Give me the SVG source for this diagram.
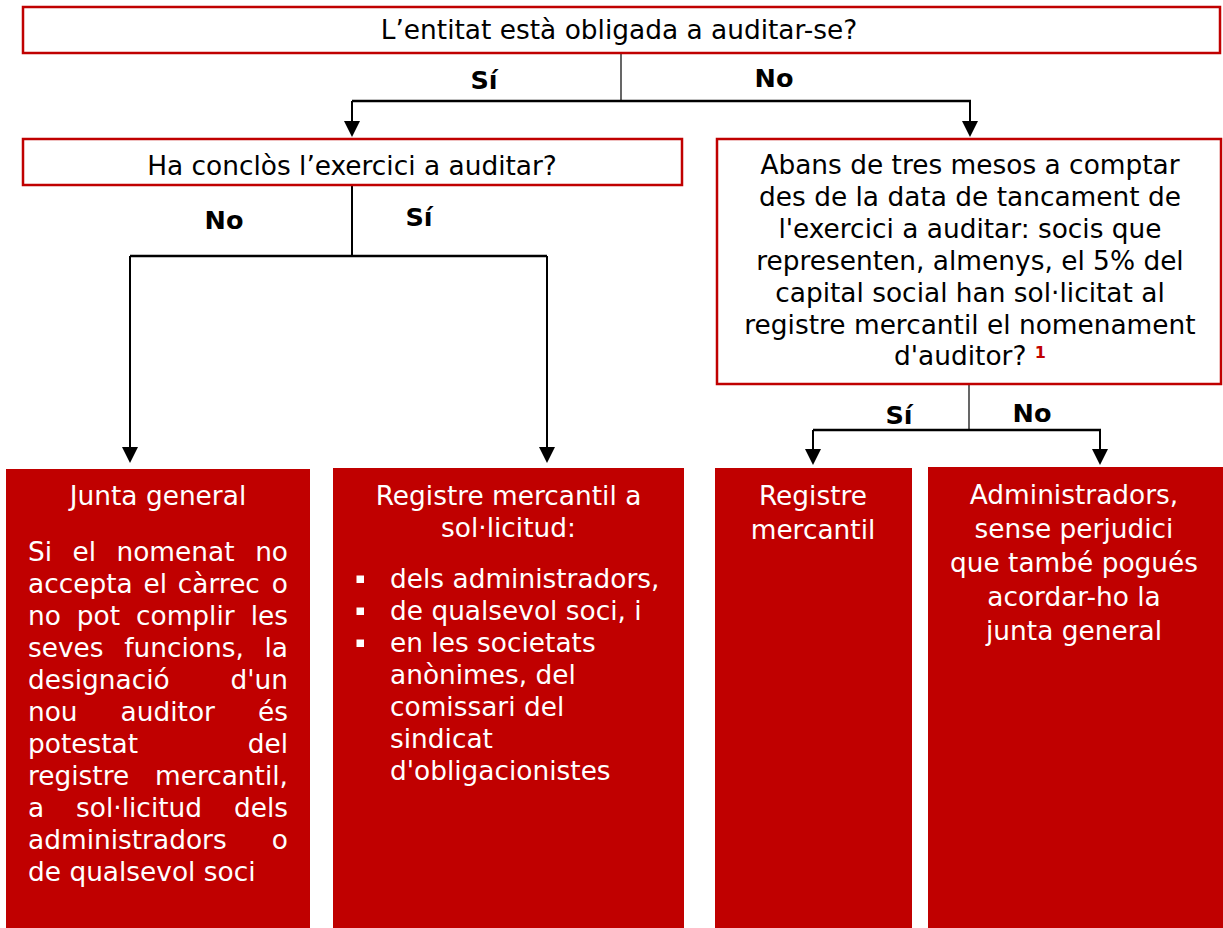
<svg xmlns="http://www.w3.org/2000/svg" width="1223" height="928" viewBox="0 0 1223 928">
<style>
  text { font-family: "DejaVu Sans", "Liberation Sans", sans-serif; font-size: 26.4px; }
  .q { fill: #000; }
  .w { fill: #fff; }
  .lbl { font-weight: bold; font-size: 25.5px; fill: #000; text-anchor: middle; }
  .c { text-anchor: middle; }
  .e { text-anchor: end; }
  .qbox { fill: #fff; stroke: #C00000; stroke-width: 2.5; }
  .rbox { fill: #C00000; }
  .thin { fill: none; stroke: #000; stroke-width: 1.2; }
  .bar { fill: none; stroke: #000; stroke-width: 2.5; }
  .vline { fill: none; stroke: #000; stroke-width: 2; }
  .arr { fill: none; stroke: #000; stroke-width: 2; marker-end: url(#ah); }
  .sup { font-size: 16px; font-weight: bold; fill: #C00000; }
</style>
<defs>
  <marker id="ah" markerUnits="userSpaceOnUse" viewBox="0 0 16 16" refX="7" refY="8" markerWidth="16" markerHeight="16" orient="auto">
    <path d="M0,0 L16,8 L0,16 Z" fill="#000"/>
  </marker>
</defs>

<g id="connectors">
  <path class="thin" d="M621,54 V101"/>
  <path class="bar" d="M352,101 H971"/>
  <path class="arr" d="M352,101 V128"/>
  <path class="arr" d="M970,101 V128"/>

  <path class="vline" d="M352,186 V256"/>
  <path class="bar" d="M130,256 H547"/>
  <path class="arr" d="M130,256 V454"/>
  <path class="arr" d="M547,256 V454"/>

  <path class="thin" d="M969,385 V430"/>
  <path class="bar" d="M813,430 H1101"/>
  <path class="arr" d="M813,430 V456"/>
  <path class="arr" d="M1100,430 V456"/>

  <text class="lbl" x="484" y="89">Sí</text>
  <text class="lbl" x="774" y="87">No</text>
  <text class="lbl" x="224" y="229">No</text>
  <text class="lbl" x="419" y="226">Sí</text>
  <text class="lbl" x="899" y="424">Sí</text>
  <text class="lbl" x="1032" y="422">No</text>
</g>

<g id="q1">
  <rect class="qbox" x="23" y="7" width="1197" height="46"/>
  <text class="q c" x="619" y="39">L’entitat està obligada a auditar-se?</text>
</g>

<g id="q2">
  <rect class="qbox" x="23" y="139" width="659" height="46"/>
  <text class="q c" x="352" y="175">Ha conclòs l’exercici a auditar?</text>
</g>

<g id="q3">
  <rect class="qbox" x="717" y="139" width="504" height="245"/>
  <text class="q c" x="970" y="174">Abans de tres mesos a comptar</text>
  <text class="q c" x="970" y="206">des de la data de tancament de</text>
  <text class="q c" x="970" y="238">l'exercici a auditar: socis que</text>
  <text class="q c" x="970" y="270">representen, almenys, el 5% del</text>
  <text class="q c" x="970" y="302">capital social han sol·licitat al</text>
  <text class="q c" x="970" y="334">registre mercantil el nomenament</text>
  <text class="q c" x="970" y="365">d'auditor? <tspan class="sup" dy="-7">1</tspan></text>
</g>

<g id="junta">
  <rect class="rbox" x="6" y="469" width="304" height="459"/>
  <text class="w c" x="158" y="505">Junta general</text>
  <text class="w" x="28" y="561">Si</text><text class="w" x="72.5" y="561">el</text><text class="w" x="116.5" y="561">nomenat</text><text class="w e" x="288" y="561">no</text>
  <text class="w" x="28" y="593">accepta</text><text class="w" x="143.5" y="593">el</text><text class="w" x="177.8" y="593">càrrec</text><text class="w e" x="288" y="593">o</text>
  <text class="w" x="28" y="625">no</text><text class="w" x="76.8" y="625">pot</text><text class="w" x="136" y="625">complir</text><text class="w e" x="288" y="625">les</text>
  <text class="w" x="28" y="657">seves</text><text class="w" x="124.2" y="657">funcions,</text><text class="w e" x="288" y="657">la</text>
  <text class="w" x="28" y="689">designació</text><text class="w e" x="288" y="689">d'un</text>
  <text class="w" x="28" y="721">nou</text><text class="w" x="120.6" y="721">auditor</text><text class="w e" x="288" y="721">és</text>
  <text class="w" x="28" y="753">potestat</text><text class="w e" x="288" y="753">del</text>
  <text class="w" x="28" y="785">registre</text><text class="w e" x="288" y="785">mercantil,</text>
  <text class="w" x="28" y="817">a</text><text class="w" x="76.1" y="817">sol·licitud</text><text class="w e" x="288" y="817">dels</text>
  <text class="w" x="28" y="849">administradors</text><text class="w e" x="288" y="849">o</text>
  <text class="w" x="28" y="881">de qualsevol soci</text>
</g>

<g id="registre-sollicitud">
  <rect class="rbox" x="333" y="468" width="351" height="460"/>
  <text class="w c" x="508.5" y="505">Registre mercantil a</text>
  <text class="w c" x="508.5" y="537">sol·licitud:</text>
  <rect fill="#fff" x="356.5" y="575.5" width="7.5" height="7.5"/>
  <rect fill="#fff" x="356.5" y="607.5" width="7.5" height="7.5"/>
  <rect fill="#fff" x="356.5" y="639.5" width="7.5" height="7.5"/>
  <text class="w" x="390" y="588">dels administradors,</text>
  <text class="w" x="390" y="620">de qualsevol soci, i</text>
  <text class="w" x="390" y="652">en les societats</text>
  <text class="w" x="390" y="684">anònimes, del</text>
  <text class="w" x="390" y="716">comissari del</text>
  <text class="w" x="390" y="748">sindicat</text>
  <text class="w" x="390" y="780">d'obligacionistes</text>
</g>

<g id="registre">
  <rect class="rbox" x="715" y="468" width="197" height="460"/>
  <text class="w c" x="813" y="505">Registre</text>
  <text class="w c" x="813" y="539">mercantil</text>
</g>

<g id="administradors">
  <rect class="rbox" x="928" y="467" width="295" height="461"/>
  <text class="w c" x="1074" y="504">Administradors,</text>
  <text class="w c" x="1074" y="538">sense perjudici</text>
  <text class="w c" x="1074" y="572">que també pogués</text>
  <text class="w c" x="1074" y="606">acordar-ho la</text>
  <text class="w c" x="1074" y="640">junta general</text>
</g>
</svg>
